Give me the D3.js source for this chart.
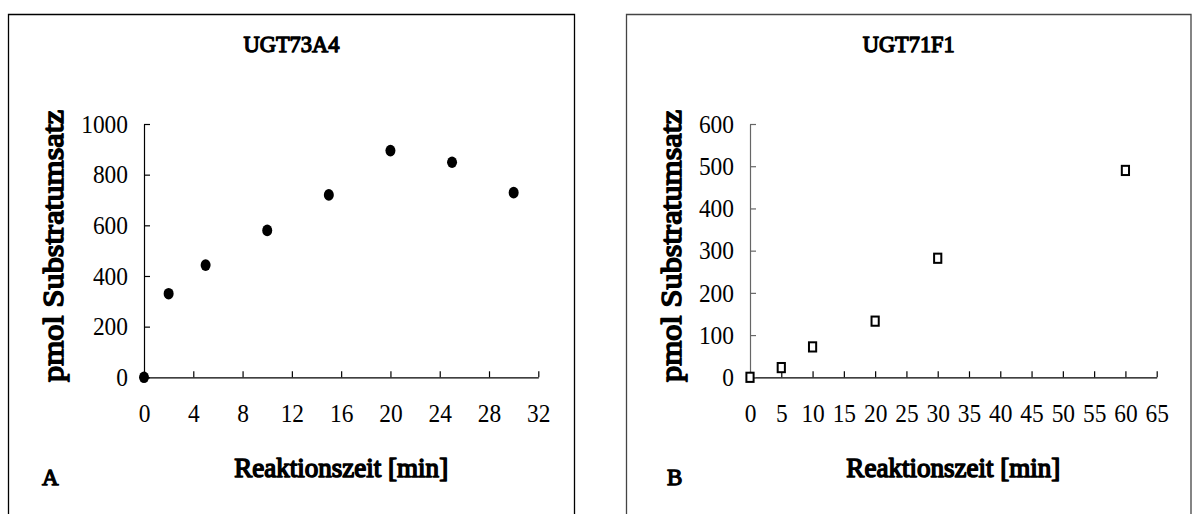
<!DOCTYPE html>
<html>
<head>
<meta charset="utf-8">
<script src="https://cdn.jsdelivr.net/npm/d3@7"></script>
<style>
  html, body { margin: 0; padding: 0; background: #fff; }
  svg { display: block; }
  text { font-family: "Liberation Serif", "Times New Roman", serif; fill: #000; }
  .heavy { stroke: #000; stroke-linejoin: round; }
</style>
</head>
<body>
<svg id="chart" width="1192" height="514"></svg>
<script>
// Panel A: UGT73A4 time course
const timeA = [0, 2, 5, 10, 15, 20, 25, 30];
const umsatzA = [0, 330, 443, 580, 720, 895, 849, 729];
const xTicksA = [0, 4, 8, 12, 16, 20, 24, 28, 32];
const yTicksA = [0, 200, 400, 600, 800, 1000];

// Panel B: UGT71F1 time course
const timeB = [0, 5, 10, 20, 30, 60];
const umsatzB = [0, 23, 72, 133, 282, 490];
const xTicksB = [0, 5, 10, 15, 20, 25, 30, 35, 40, 45, 50, 55, 60, 65];
const yTicksB = [0, 100, 200, 300, 400, 500, 600];

const titles = ["UGT73A4", "UGT71F1"];
const letters = ["A", "B"];
const xLabel = "Reaktionszeit [min]";
const yLabel = "pmol Substratumsatz";

const SERIF = "'Liberation Serif', 'Times New Roman', serif";
const svg = d3.select("#chart");

const panels = [
  {
    title: titles[0], letter: letters[0],
    xs: timeA, ys: umsatzA, xTicks: xTicksA, yTicks: yTicksA,
    frame: { x0: 8.5, x1: 574.5, y0: 14.5 },
    plot: { left: 144, right: 538.3, top: 124, bottom: 377.3 },
    yLabelX: 63, letterX: 42, yAxisColor: "#000", frameColor: "#000",
    titleLen: 96, marker: "dot"
  },
  {
    title: titles[1], letter: letters[1],
    xs: timeB, ys: umsatzB, xTicks: xTicksB, yTicks: yTicksB,
    frame: { x0: 626.5, x1: 1191, y0: 14.5 },
    plot: { left: 750, right: 1156.7, top: 124, bottom: 377.3 },
    yLabelX: 681, letterX: 667, yAxisColor: "#666", frameColor: "#444",
    titleLen: 92, marker: "square"
  }
];

// bold-looking serif text: regular face thickened with an outline
function heavyText(sel, size, strokeW) {
  return sel.append("text")
    .attr("class", "heavy")
    .style("font-family", SERIF)
    .style("font-weight", "normal")
    .attr("font-size", size)
    .attr("stroke-width", strokeW)
    .attr("lengthAdjust", "spacingAndGlyphs");
}

panels.forEach(p => {
  const g = svg.append("g");
  const f = p.frame;

  // open-bottom frame around each panel
  g.append("path")
    .attr("d", `M${f.x0},514 V${f.y0} H${f.x1} V514`)
    .attr("fill", "none")
    .attr("stroke", p.frameColor)
    .attr("stroke-width", 1.3);

  const x = d3.scaleLinear()
    .domain([p.xTicks[0], p.xTicks[p.xTicks.length - 1]])
    .range([p.plot.left, p.plot.right]);
  const y = d3.scaleLinear()
    .domain([p.yTicks[0], p.yTicks[p.yTicks.length - 1]])
    .range([p.plot.bottom, p.plot.top]);

  const xAxis = g.append("g")
    .attr("transform", `translate(0,${p.plot.bottom})`)
    .call(d3.axisBottom(x).tickValues(p.xTicks).tickFormat(d3.format("d"))
      .tickSizeInner(-6).tickSizeOuter(0).tickPadding(26));
  const yAxis = g.append("g")
    .attr("transform", `translate(${p.plot.left},0)`)
    .call(d3.axisLeft(y).tickValues(p.yTicks).tickFormat(d3.format("d"))
      .tickSizeInner(-6).tickSizeOuter(0).tickPadding(16));

  [xAxis, yAxis].forEach(a => {
    a.attr("font-family", null).attr("font-size", null);
    a.selectAll("text")
      .style("font-family", SERIF)
      .style("font-size", "26px")
      .attr("fill", "#000")
      .attr("textLength", function () { return this.textContent.length * 11.7; })
      .attr("lengthAdjust", "spacingAndGlyphs");
  });
  xAxis.selectAll("path, line").attr("stroke", "#000").attr("stroke-width", 1.2);
  yAxis.selectAll("path, line").attr("stroke", p.yAxisColor).attr("stroke-width", 1.2);

  // markers
  if (p.marker === "dot") {
    g.append("g").selectAll("ellipse")
      .data(p.xs.map((d, i) => [d, p.ys[i]]))
      .join("ellipse")
      .attr("cx", d => x(d[0]))
      .attr("cy", d => y(d[1]))
      .attr("rx", 5)
      .attr("ry", 5.8)
      .attr("fill", "#000");
  } else {
    g.append("g").selectAll("rect")
      .data(p.xs.map((d, i) => [d, p.ys[i]]))
      .join("rect")
      .attr("x", d => x(d[0]) - 3.6)
      .attr("y", d => y(d[1]) - 4.6)
      .attr("width", 7.2)
      .attr("height", 9.2)
      .attr("fill", "#fff")
      .attr("stroke", "#000")
      .attr("stroke-width", 2);
  }

  const frameCenter = (f.x0 + f.x1) / 2;
  const plotCenter = (p.plot.left + p.plot.right) / 2;

  // title
  heavyText(g, 23, 1.3)
    .attr("x", frameCenter)
    .attr("y", 51.7)
    .attr("text-anchor", "middle")
    .attr("textLength", p.titleLen)
    .text(p.title);

  // x-axis title
  heavyText(g, 27, 1.5)
    .attr("x", plotCenter)
    .attr("y", 477)
    .attr("text-anchor", "middle")
    .attr("textLength", 214)
    .text(xLabel);

  // y-axis title
  heavyText(g, 30, 1.6)
    .attr("transform", `translate(${p.yLabelX},246) rotate(-90)`)
    .attr("text-anchor", "middle")
    .attr("textLength", 272)
    .text(yLabel);

  // panel letter
  heavyText(g, 23, 1.3)
    .attr("x", p.letterX)
    .attr("y", 485)
    .text(p.letter);
});
</script>
</body>
</html>
